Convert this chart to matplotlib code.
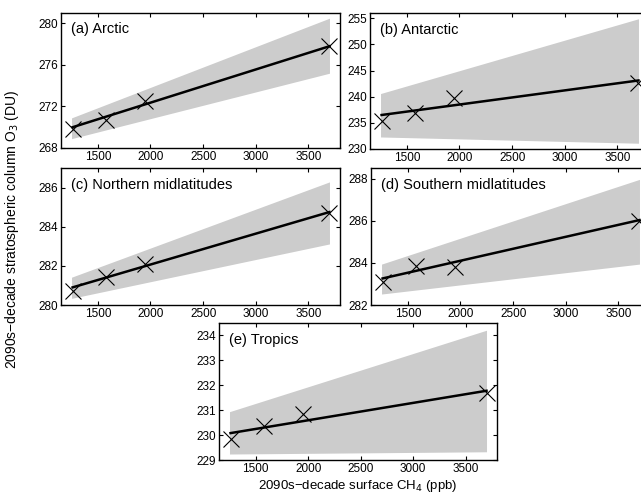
import matplotlib
matplotlib.use("Agg")
import matplotlib.pyplot as plt

plt.rcParams['font.family'] = ['Liberation Sans', 'DejaVu Sans']

# surface CH4 of the runs (ppb)
ch4 = [1260, 1580, 1950, 3700]
fit_x = [1260, 3700]
band_x = [1250, 3700]

titles = ["(a) Arctic", "(b) Antarctic", "(c) Northern midlatitudes",
          "(d) Southern midlatitudes", "(e) Tropics"]

# column O3 at each CH4 level (DU)
o3_arctic = [269.8, 270.7, 272.5, 277.8]
o3_antarctic = [235.4, 236.8, 239.8, 242.6]
o3_nmid = [280.7, 281.45, 282.1, 284.7]
o3_smid = [283.1, 283.85, 283.8, 285.98]
o3_tropics = [229.85, 230.35, 230.85, 231.7]

# linear fit at the two ends
fit_arctic = [270.0, 277.8]
fit_antarctic = [236.5, 243.1]
fit_nmid = [280.9, 284.75]
fit_smid = [283.26, 286.03]
fit_tropics = [230.08, 231.78]

# uncertainty band (lower, upper) at the two ends
band_arctic = ([268.9, 275.2], [270.9, 280.5])
band_antarctic = ([232.3, 231.1], [240.6, 254.9])
band_nmid = ([280.34, 283.12], [281.42, 286.29])
band_smid = ([282.52, 283.94], [283.94, 287.96])
band_tropics = ([229.24, 229.33], [230.94, 234.21])

ylims = [(268, 281), (230, 256), (280, 287), (282, 288.5), (229, 234.5)]
yticks = [[268, 272, 276, 280], [230, 235, 240, 245, 250, 255],
          [280, 282, 284, 286], [282, 284, 286, 288],
          [229, 230, 231, 232, 233, 234]]
xticks = [1500, 2000, 2500, 3000, 3500]


def px_box(left, top, right, bottom, W=641, H=498):
    return [left / W, 1 - bottom / H, (right - left) / W, (bottom - top) / H]


def main():
    fig = plt.figure(figsize=(6.41, 4.98), dpi=100)
    boxes = [px_box(61, 13, 340, 148), px_box(370, 13, 649, 149),
             px_box(61, 168, 340, 305), px_box(371, 168, 650, 305),
             px_box(219, 323, 497, 460)]
    o3 = [o3_arctic, o3_antarctic, o3_nmid, o3_smid, o3_tropics]
    fits = [fit_arctic, fit_antarctic, fit_nmid, fit_smid, fit_tropics]
    bands = [band_arctic, band_antarctic, band_nmid, band_smid, band_tropics]

    for i in range(5):
        ax = fig.add_axes(boxes[i])
        lo, hi = bands[i]
        ax.fill_between(band_x, lo, hi, color='#cccccc', linewidth=0)
        ax.plot(fit_x, fits[i], color='k', linewidth=1.8, zorder=3)
        ax.plot(ch4, o3[i], 'x', color='k', markersize=11,
                markeredgewidth=0.8, zorder=4)
        ax.set_xlim(1150, 3800)
        ax.set_ylim(*ylims[i])
        ax.set_xticks(xticks)
        ax.set_yticks(yticks[i])
        ax.tick_params(direction='in', top=True, right=True, length=3,
                       width=0.8, labelsize=8.5, pad=2)
        for s in ax.spines.values():
            s.set_linewidth(1.0)
        ax.text(0.035, 0.93, titles[i], transform=ax.transAxes,
                fontsize=10.5, va='top', ha='left')
        if i == 4:
            ax.set_xlabel("2090s\u2212decade surface CH$_4$ (ppb)",
                          fontsize=9.5, labelpad=2)

    fig.text(0.018, 0.54, "2090s\u2212decade stratospheric column O$_3$ (DU)",
             rotation=90, va='center', ha='center', fontsize=10)
    fig.savefig("out.png", dpi=100)


if __name__ == "__main__":
    main()
